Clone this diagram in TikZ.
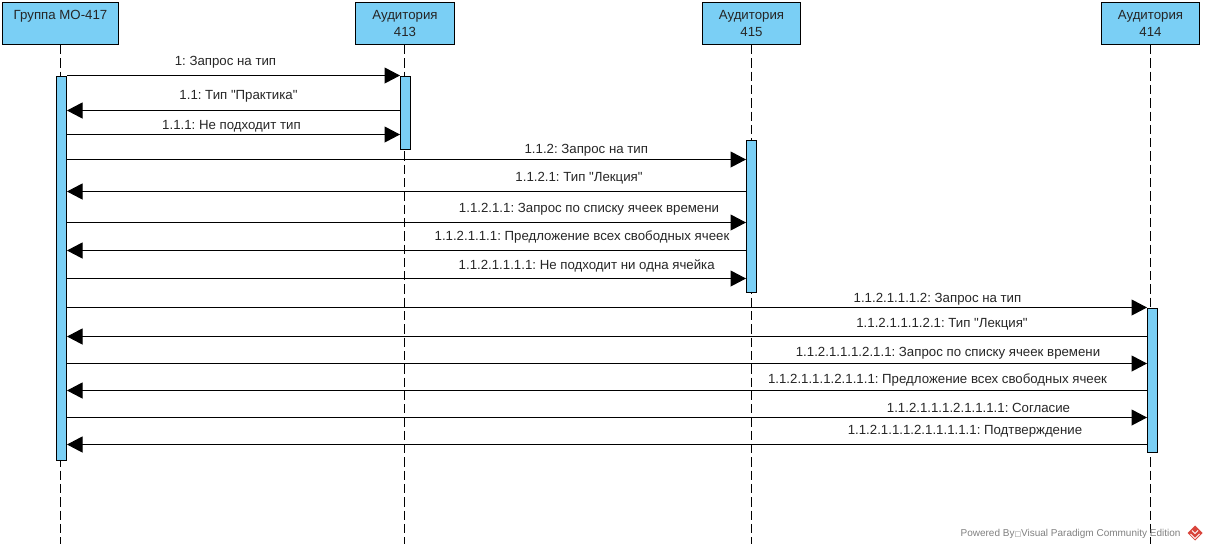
\documentclass[tikz,border=0pt]{standalone}
\usepackage{fontspec}
\newfontfamily\labelfont{Liberation Sans}
\newfontfamily\boxfont{DejaVu Sans}
\usetikzlibrary{arrows.meta}
\definecolor{lifeBlue}{HTML}{7ACFF5}
\definecolor{logoRed}{HTML}{D9453C}
\tikzset{
    every node/.style={font=\labelfont\frenchspacing\fontsize{13.25}{17.5}\selectfont, text=black!85},
    head/.style={draw=black, fill=lifeBlue, line width=1pt, inner sep=0pt, minimum height=42pt, align=center},
    bar/.style={draw=black, fill=lifeBlue, line width=1pt, inner sep=0pt, minimum width=10pt},
    life/.style={line width=1pt, dash pattern=on 9.3pt off 4pt},
    msg/.style={line width=1pt, -{Triangle[length=15.5pt,width=16pt]}},
}
\begin{document}
\begin{tikzpicture}[x=1pt, y=-1pt]
    \useasboundingbox (0,0) rectangle (1207,550);
    % heads
    \node[head, minimum width=116pt] (group) at (60.5,23.5) {Группа МО-417\\\phantom{0}};
    \node[head, minimum width=99pt] (a413) at (405,23.5) {Аудитория\\413};
    \node[head, minimum width=98pt] (a415) at (751.5,23.5) {Аудитория\\415};
    \node[head, minimum width=98pt] (a414) at (1150.5,23.5) {Аудитория\\414};
    % lifelines
    \coordinate (endG) at (60.5,544);
    \coordinate (end413) at (404.5,544);
    \coordinate (end415) at (751.5,544);
    \coordinate (end414) at (1150.5,544);
    \draw[life] (group.south) -- (endG);
    \draw[life] (a413.south -| end413) -- (end413);
    \draw[life] (a415.south) -- (end415);
    \draw[life] (a414.south) -- (end414);
    % activation bars
    \node[bar, minimum height=384pt] (barG) at (61.5,268.5) {};
    \node[bar, minimum height=73pt] (bar413) at (405.5,113) {};
    \node[bar, minimum height=152pt] (bar415) at (751.5,216.5) {};
    \node[bar, minimum height=144pt] (bar414) at (1152.5,380.5) {};
    % message rows
    \coordinate (m1) at (0,75.5);
    \coordinate (m2) at (0,110.5);
    \coordinate (m3) at (0,134.5);
    \coordinate (m4) at (0,159.5);
    \coordinate (m5) at (0,191.5);
    \coordinate (m6) at (0,222.5);
    \coordinate (m7) at (0,250.5);
    \coordinate (m8) at (0,278.5);
    \coordinate (m9) at (0,307.5);
    \coordinate (m10) at (0,336.5);
    \coordinate (m11) at (0,363.5);
    \coordinate (m12) at (0,390.5);
    \coordinate (m13) at (0,417.5);
    \coordinate (m14) at (0,444.5);
    \draw
    (barG.east |- m1) edge[msg] (bar413.west |- m1)
    (bar413.west |- m2) edge[msg] (barG.east |- m2)
    (barG.east |- m3) edge[msg] (bar413.west |- m3)
    (barG.east |- m4) edge[msg] (bar415.west |- m4)
    (bar415.west |- m5) edge[msg] (barG.east |- m5)
    (barG.east |- m6) edge[msg] (bar415.west |- m6)
    (bar415.west |- m7) edge[msg] (barG.east |- m7)
    (barG.east |- m8) edge[msg] (bar415.west |- m8)
    (barG.east |- m9) edge[msg] (bar414.west |- m9)
    (bar414.west |- m10) edge[msg] (barG.east |- m10)
    (barG.east |- m11) edge[msg] (bar414.west |- m11)
    (bar414.west |- m12) edge[msg] (barG.east |- m12)
    (barG.east |- m13) edge[msg] (bar414.west |- m13)
    (bar414.west |- m14) edge[msg] (barG.east |- m14);
    % labels
    \node (l1) at (225.5,62.5) {1: Запрос на тип};
    \node (l2) at (238.5,96) {1.1: Тип "Практика"};
    \node (l3) at (231.5,126) {1.1.1: Не подходит тип};
    \node (l4) at (586.3,150) {1.1.2: Запрос на тип};
    \node (l5) at (579,178.5) {1.1.2.1: Тип "Лекция"};
    \node (l6) at (589,209) {1.1.2.1.1: Запрос по списку ячеек времени};
    \node (l7) at (582,237) {1.1.2.1.1.1: Предложение всех свободных ячеек};
    \node (l8) at (586.7,265.5) {1.1.2.1.1.1.1: Не подходит ни одна ячейка};
    \node (l9) at (937.5,299.5) {1.1.2.1.1.1.2: Запрос на тип};
    \node (l10) at (942,324) {1.1.2.1.1.1.2.1: Тип "Лекция"};
    \node (l11) at (948,353) {1.1.2.1.1.1.2.1.1: Запрос по списку ячеек времени};
    \node (l12) at (937.5,380.5) {1.1.2.1.1.1.2.1.1.1: Предложение всех свободных ячеек};
    \node (l13) at (978.5,407.5) {1.1.2.1.1.1.2.1.1.1.1: Согласие};
    \node (l14) at (965,431.5) {1.1.2.1.1.1.2.1.1.1.1.1: Подтверждение};
    % watermark
    \node[font=\labelfont\fontsize{10}{12}\selectfont, text=black!50, anchor=east] (mark) at (1184,533.5) {Powered By{\boxfont\fontsize{7}{12}\selectfont □}Visual Paradigm Community Edition};
    \fill[logoRed] (1195,525.5) -- (1202.5,533) -- (1195,540.5) -- (1187.5,533) -- cycle;
    \draw[white, line width=1pt] (1190.5,534) -- (1195,538.5) -- (1199.5,534);
    \draw[white, line width=1pt] (1192,530.5) -- (1195,533.5) -- (1198,530.5);
\end{tikzpicture}
\end{document}
